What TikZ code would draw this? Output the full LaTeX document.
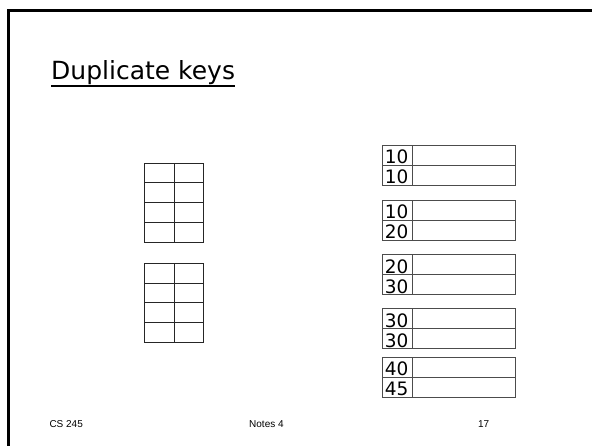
\documentclass[tikz,border=0pt]{standalone}
\usepackage{fontspec}
\setmainfont{DejaVu Sans}
\newfontfamily\footfont{Liberation Sans}
\usetikzlibrary{positioning}
\tikzset{
  slideframe/.style={line width=2.6pt,black},
  heading/.style={font=\fontsize{25}{30}\selectfont,inner sep=0pt,anchor=base west},
  gridcell/.style={draw=black!85,line width=0.8pt,minimum width=29.75pt,
                   minimum height=19.75pt,inner sep=0pt,outer sep=0pt},
  keycell/.style={draw=black!70,line width=0.8pt,inner xsep=2.5pt,inner ysep=0pt,
                  text width=25pt,align=left,minimum height=20pt,outer sep=0pt,
                  text height=17pt,text depth=0pt,font=\fontsize{18.5}{20}\selectfont},
  ptrcell/.style={draw=black!70,line width=0.8pt,minimum width=103pt,
                  minimum height=20pt,inner sep=0pt,outer sep=0pt},
  foot/.style={font=\footfont\fontsize{10}{12}\selectfont,inner sep=0pt},
}
\begin{document}
\begin{tikzpicture}[x=1pt,y=-1pt]
\useasboundingbox (0,0) rectangle (592,446);

% slide frame
\draw[slideframe] (8.5,446) -- (8.5,10.3) -- (592,10.3);

% title
\node[heading] (title) at (51,80) {Duplicate keys};
\draw[line width=1.6pt] ([yshift=-0.5pt]title.south west) -- ([yshift=-0.5pt]title.south east);

% two empty index blocks (left)
\foreach \top [count=\g] in {163,263.3}{
  \foreach \r in {0,...,3}{
    \foreach \c in {0,1}{
      \node[gridcell,anchor=north west] (g\g-\r-\c) at (144.3+29.75*\c,\top+19.75*\r) {};
    }
  }
}

% data blocks with duplicate keys (right)
\foreach \ka/\kb/\top [count=\i] in {10/10/145.3,10/20/200.3,20/30/254.8,30/30/308.7,40/45/357.4}{
  \node[keycell,anchor=north west] (k\i a) at (382.3,\top) {\ka};
  \node[ptrcell,right=0pt of k\i a] (p\i a) {};
  \node[keycell,below=0pt of k\i a] (k\i b) {\kb};
  \node[ptrcell,right=0pt of k\i b] (p\i b) {};
}

% footer
\node[foot,anchor=base west] (course) at (49.3,427.3) {CS 245};
\node[foot,anchor=base west] (notes) at (249,427.3) {Notes 4};
\node[foot,anchor=base east] (page) at (489.5,427.3) {17};

\end{tikzpicture}
\end{document}
